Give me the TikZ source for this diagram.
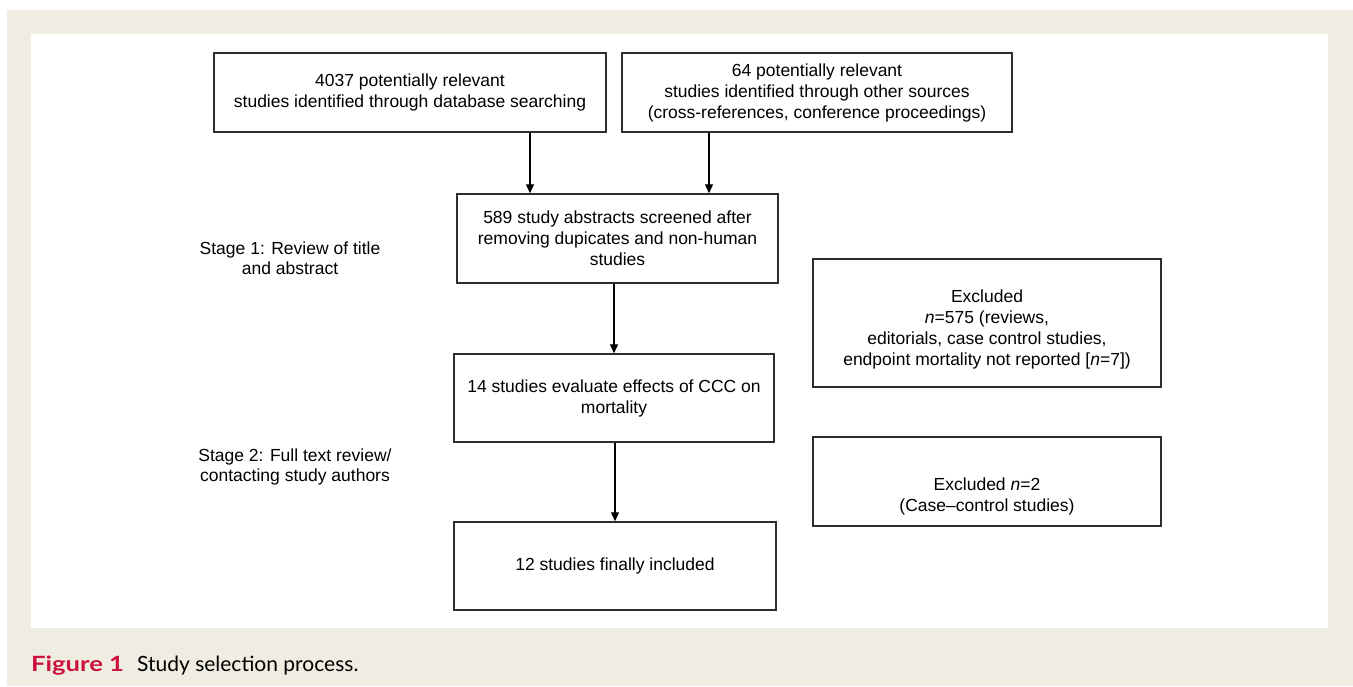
\documentclass[tikz,border=0pt]{standalone}
\usepackage{fontspec}
\setmainfont{Liberation Sans}
\newfontfamily\capfont{Lato}
\usepackage{xcolor}
\usetikzlibrary{positioning,arrows.meta}
\definecolor{panelbeige}{RGB}{239,236,225}
\definecolor{figred}{RGB}{204,18,60}
\definecolor{boxgray}{RGB}{45,45,45}

\begin{document}
\begin{tikzpicture}[
  x=1pt, y=-1pt,
  box/.style={
    rectangle,
    draw=boxgray,
    line width=1.5pt,
    fill=white,
    align=center,
    inner sep=2pt,
    font=\fontsize{17.5pt}{21pt}\selectfont
  },
  stage/.style={align=center, font=\fontsize{17.5pt}{20.5pt}\selectfont},
  arrow/.style={-{Triangle[length=9pt,width=8pt]}, line width=1.4pt}
]

% Page and panel
\useasboundingbox (0,0) rectangle (1353,686);
\fill[white] (0,0) rectangle (1353,686);
\fill[panelbeige] (7,10) rectangle (1353,686);
\fill[white] (31,34) rectangle (1328,628);

% Sources
\node[box, minimum width=392pt, minimum height=79pt] (A) at (410,92.5)
  {4037 potentially relevant\\studies identified through database searching};
\node[box, minimum width=390pt, minimum height=79pt] (B) at (817,92.5)
  {64 potentially relevant\\studies identified through other sources\\(cross-references, conference proceedings)};

% Main column
\node[box, minimum width=321pt, minimum height=89pt] (C) at (617.5,238.5)
  {589 study abstracts screened after\\removing dupicates and non-human\\studies};
\node[box, minimum width=320pt, minimum height=88pt] (D) at (614,398)
  {14 studies evaluate effects of CCC on\\mortality};
\node[box, minimum width=322pt, minimum height=88pt] (E) at (615,566)
  {12 studies finally included};

% Exclusions
\node[box, minimum width=348pt, minimum height=128pt] (F) at (987,323)
  {\rule{0pt}{25pt}Excluded\\\textit{n}=575 (reviews,\\editorials, case control studies,\\endpoint mortality not reported [\textit{n}=7])};
\node[box, minimum width=348pt, minimum height=89pt] (G) at (987,481.5)
  {\rule{0pt}{43pt}Excluded \textit{n}=2\\(Case–control studies)};

% Stage labels
\node[stage] (S1) at (290,258) {Stage 1: Review of title\\and abstract};
\node[stage] (S2) at (295,467) {Stage 2: Full text review/\\contacting study authors};

% Arrows
\draw[arrow] ([xshift=120pt]A.south) -- ([xshift=120pt]A.south |- C.north);
\draw[arrow] ([xshift=-108pt]B.south) -- ([xshift=-108pt]B.south |- C.north);
\draw[arrow] (C.south -| D.north) -- (D.north);
\draw[arrow] (D.south -| E.north) -- (E.north);

% Caption
\node[anchor=base west, inner sep=0pt, font=\capfont\fontsize{21pt}{24pt}\selectfont] (cap) at (31,671)
  {\textcolor{figred}{\scalebox{1.22}[1]{\bfseries Figure 1}}\hspace{13pt}Study selection process.};

\end{tikzpicture}
\end{document}
